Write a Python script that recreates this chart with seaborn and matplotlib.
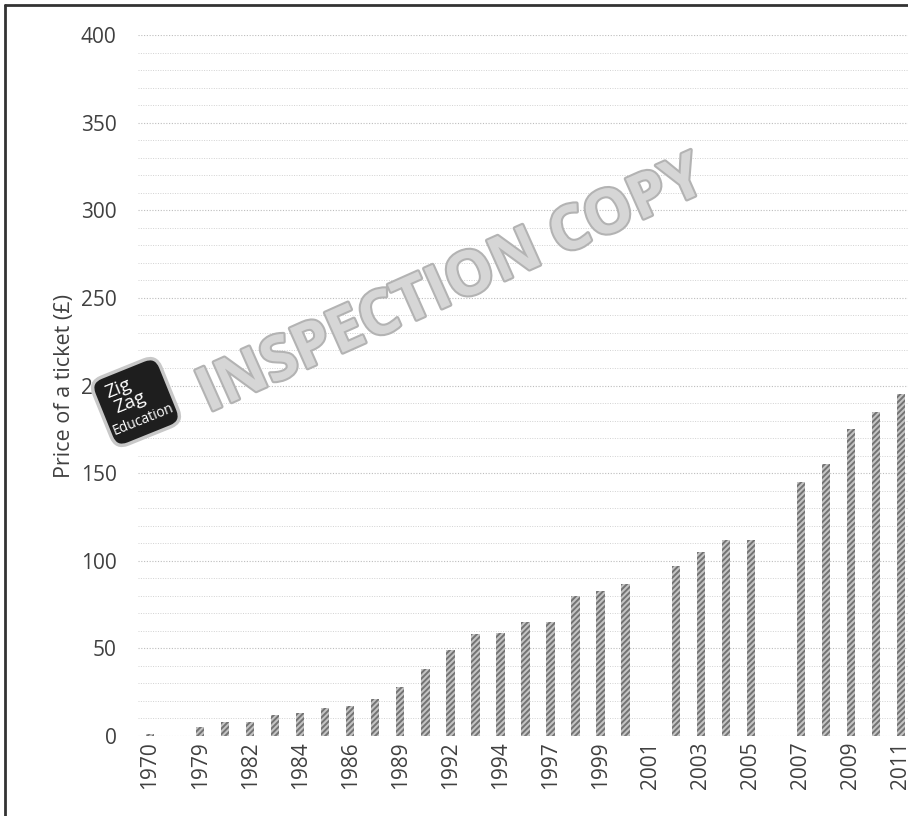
import matplotlib
matplotlib.use("Agg")
import matplotlib.pyplot as plt
import matplotlib.patheffects as pe
import matplotlib.transforms as mtransforms
from matplotlib.lines import Line2D
from matplotlib.patches import FancyBboxPatch
import seaborn as sns
import pandas as pd

# Festival ticket prices by year (0 = no paid event that year)
years = ["1970", "1971", "1979", "1981", "1982", "1983", "1984", "1985", "1986",
         "1987", "1989", "1990", "1992", "1993", "1994", "1995", "1997", "1998",
         "1999", "2000", "2001", "2002", "2003", "2004", "2005", "2006", "2007",
         "2008", "2009", "2010", "2011"]
prices = [1, 0, 5, 8, 8, 12, 13, 16, 17, 21, 28, 38, 49, 58, 59, 65, 65, 80,
          83, 87, 0, 97, 105, 112, 112, 0, 145, 155, 175, 185, 195]
y_ticks = [0, 50, 100, 150, 200, 250, 300, 350, 400]

df = pd.DataFrame({"year": years, "price": prices})

sns.set_theme(style="white")
plt.rcParams["font.family"] = ["Open Sans", "DejaVu Sans"]
plt.rcParams["hatch.linewidth"] = 1.4

W, H = 908, 816
fig = plt.figure(figsize=(W / 100, H / 100), dpi=100)
ax = fig.add_axes([137.5 / W, 80 / H, 776 / W, 701 / H])

sns.barplot(data=df, x="year", y="price", order=years, width=0.33,
            color="#c4c4c4", saturation=1, ax=ax, zorder=3)
for bar in ax.patches:
    bar.set_hatch("//////")
    bar.set_edgecolor("#737373")
    bar.set_linewidth(0)

ax.set_ylim(0, 400)
ax.set_xlim(-0.5, len(years) - 0.5)
ax.set_yticks(y_ticks)
ax.set_yticks(range(0, 401, 10), minor=True)
ax.grid(axis="y", which="minor", linestyle=(0, (1, 1.5)), color="#d2d2d2",
        linewidth=0.7, zorder=0)
ax.grid(axis="y", which="major", linestyle=(0, (1, 1.5)), color="#bdbdbd",
        linewidth=0.8, zorder=0)
ax.grid(axis="x", visible=False)
for s in ax.spines.values():
    s.set_visible(False)

ax.set_xticks(range(0, len(years), 2))
ax.set_xticklabels(years[::2], rotation=90, fontsize=15, color="#404040")
ax.set_yticklabels([str(t) for t in y_ticks], fontsize=15, color="#404040")
ax.tick_params(axis="both", length=0)
ax.tick_params(axis="x", pad=4)
ax.tick_params(axis="y", pad=15)
ax.set_xlabel("")
ax.set_ylabel("Price of a ticket (£)", fontsize=15.5, color="#404040", labelpad=4)

# outer frame (left and top edges)
fig.add_artist(Line2D([5 / W, 5 / W], [0, 1 - 5 / H], color="#333333", lw=2))
fig.add_artist(Line2D([5 / W, 1], [1 - 5 / H, 1 - 5 / H], color="#333333", lw=2))

# watermark
fig.text(452 / W, 1 - 287 / H, "INSPECTION COPY", fontsize=44, fontweight="bold",
         rotation=24, ha="center", va="center", color="#d6d6d6", zorder=10,
         path_effects=[pe.withStroke(linewidth=3, foreground="#b3b3b3")])

# publisher badge: rotated rounded square with white lettering
cx, cy, side, ang = 136, H - 402, 72, 22
badge_tf = mtransforms.Affine2D().rotate_deg(ang).translate(cx, cy)
badge = FancyBboxPatch((-side / 2, -side / 2), side, side,
                       boxstyle="round,pad=0,rounding_size=13",
                       fc="#1e1e1e", ec="#c8c8c8", lw=2.5,
                       transform=badge_tf, zorder=11)
fig.add_artist(badge)
for txt, (dx, dy), fs in [("Zig", (-12, 19), 14), ("Zag", (-6, 2), 14),
                          ("Education", (0, -19), 10)]:
    px, py = badge_tf.transform((dx, dy))
    fig.text(px / W, py / H, txt, fontsize=fs, color="white", rotation=ang,
             rotation_mode="anchor", ha="center", va="center", zorder=12)

fig.savefig("out.png", dpi=100)
